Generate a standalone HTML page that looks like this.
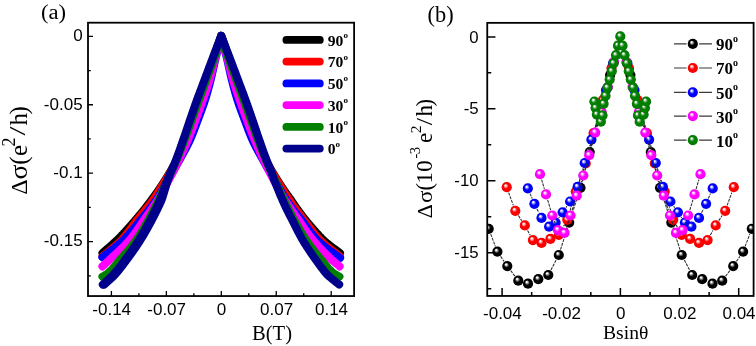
<!DOCTYPE html>
<html><head><meta charset="utf-8"><style>
html,body{margin:0;padding:0;background:#fff;width:756px;height:346px;overflow:hidden;}
svg{display:block;will-change:transform;}

</style></head><body>
<svg width="756" height="346" viewBox="0 0 756 346">
<defs>
<radialGradient id="gk" cx="0.5" cy="0.5" r="0.5" fx="0.36" fy="0.31"><stop offset="0" stop-color="#ffffff"/><stop offset="0.1" stop-color="#ffffff" stop-opacity="1"/><stop offset="0.3" stop-color="#808080"/><stop offset="0.5" stop-color="#000000"/><stop offset="0.85" stop-color="#000000"/><stop offset="1" stop-color="#000000"/></radialGradient>
<radialGradient id="gr" cx="0.5" cy="0.5" r="0.5" fx="0.36" fy="0.31"><stop offset="0" stop-color="#ffffff"/><stop offset="0.1" stop-color="#ffffff" stop-opacity="1"/><stop offset="0.3" stop-color="#ff8080"/><stop offset="0.5" stop-color="#ff0000"/><stop offset="0.85" stop-color="#ff0000"/><stop offset="1" stop-color="#e00000"/></radialGradient>
<radialGradient id="gb" cx="0.5" cy="0.5" r="0.5" fx="0.36" fy="0.31"><stop offset="0" stop-color="#ffffff"/><stop offset="0.1" stop-color="#ffffff" stop-opacity="1"/><stop offset="0.3" stop-color="#8080ff"/><stop offset="0.5" stop-color="#0000ff"/><stop offset="0.85" stop-color="#0000ff"/><stop offset="1" stop-color="#0000d8"/></radialGradient>
<radialGradient id="gm" cx="0.5" cy="0.5" r="0.5" fx="0.36" fy="0.31"><stop offset="0" stop-color="#ffffff"/><stop offset="0.1" stop-color="#ffffff" stop-opacity="1"/><stop offset="0.3" stop-color="#ff80ff"/><stop offset="0.5" stop-color="#ff00ff"/><stop offset="0.85" stop-color="#ff00ff"/><stop offset="1" stop-color="#e000e0"/></radialGradient>
<radialGradient id="gg" cx="0.5" cy="0.5" r="0.5" fx="0.36" fy="0.31"><stop offset="0" stop-color="#ffffff"/><stop offset="0.1" stop-color="#ffffff" stop-opacity="1"/><stop offset="0.3" stop-color="#70b070"/><stop offset="0.5" stop-color="#008000"/><stop offset="0.85" stop-color="#008000"/><stop offset="1" stop-color="#006800"/></radialGradient>
<clipPath id="cpa"><rect x="88.0" y="22.7" width="266.1" height="273.35"/></clipPath>
<clipPath id="cpb"><rect x="487.25" y="22.85" width="266.35" height="273.09999999999997"/></clipPath>
</defs>
<rect width="756" height="346" fill="#fff"/>
<g clip-path="url(#cpa)" fill="none" stroke-width="8" stroke-linecap="round" stroke-linejoin="round">
<path d="M102.5,253.0 L102.7,252.8 L103.9,251.8 L105.0,250.8 L106.2,249.8 L107.3,248.8 L108.5,247.8 L109.7,246.8 L110.8,245.8 L112.0,244.8 L113.1,243.8 L114.2,242.8 L115.3,241.8 L116.4,240.8 L117.4,239.8 L118.4,238.8 L119.4,237.8 L120.4,236.8 L121.4,235.8 L122.3,234.8 L123.3,233.8 L124.2,232.8 L125.2,231.8 L126.1,230.8 L127.0,229.8 L127.9,228.8 L128.8,227.8 L129.7,226.8 L130.6,225.8 L131.5,224.8 L132.3,223.8 L133.2,222.8 L134.1,221.8 L134.9,220.8 L135.8,219.8 L136.6,218.8 L137.5,217.8 L138.3,216.8 L139.1,215.8 L140.0,214.8 L140.8,213.8 L141.6,212.8 L142.4,211.8 L143.2,210.8 L144.0,209.8 L144.8,208.8 L145.6,207.8 L146.4,206.8 L147.1,205.8 L147.9,204.8 L148.7,203.8 L149.4,202.8 L150.2,201.8 L150.9,200.8 L151.6,199.8 L152.4,198.8 L153.1,197.8 L153.8,196.8 L154.6,195.8 L155.3,194.8 L156.0,193.8 L156.7,192.8 L157.4,191.8 L158.1,190.8 L158.8,189.8 L159.5,188.8 L160.1,187.8 L160.8,186.8 L161.5,185.8 L162.1,184.8 L162.8,183.8 L163.4,182.8 L164.1,181.8 L164.7,180.8 L165.3,179.8 L165.9,178.8 L166.6,177.8 L167.2,176.8 L167.8,175.8 L168.4,174.8 L169.0,173.8 L169.6,172.8 L170.2,171.8 L170.8,170.8 L171.4,169.8 L172.0,168.8 L172.5,167.8 L173.1,166.8 L173.6,165.8 L174.2,164.8 L174.7,163.8 L175.2,162.8 L175.7,161.8 L176.1,160.8 L176.6,159.8 L177.0,158.8 L177.5,157.8 L177.9,156.8 L178.3,155.8 L178.7,154.8 L179.1,153.8 L179.4,152.8 L179.8,151.8 L180.2,150.8 L180.5,149.8 L180.9,148.8 L181.2,147.8 L181.6,146.8 L181.9,145.8 L182.3,144.8 L182.6,143.8 L183.0,142.8 L183.3,141.8 L183.7,140.8 L184.1,139.8 L184.4,138.8 L184.8,137.8 L185.2,136.8 L185.5,135.8 L185.9,134.8 L186.3,133.8 L186.6,132.8 L187.0,131.8 L187.3,130.8 L187.7,129.8 L188.0,128.8 L188.4,127.8 L188.8,126.8 L189.1,125.8 L189.5,124.8 L189.8,123.8 L190.2,122.8 L190.6,121.8 L190.9,120.8 L191.3,119.8 L191.6,118.8 L192.0,117.8 L192.4,116.8 L192.7,115.8 L193.1,114.8 L193.4,113.8 L193.8,112.8 L194.2,111.8 L194.5,110.8 L194.9,109.8 L195.2,108.8 L195.6,107.8 L196.0,106.8 L196.3,105.8 L196.7,104.8 L197.0,103.8 L197.4,102.8 L197.8,101.8 L198.1,100.8 L198.5,99.8 L198.8,98.8 L199.2,97.8 L199.6,96.8 L199.9,95.8 L200.3,94.8 L200.6,93.8 L201.0,92.8 L201.4,91.8 L201.7,90.8 L202.1,89.8 L202.4,88.8 L202.8,87.8 L203.2,86.8 L203.5,85.8 L203.9,84.8 L204.2,83.8 L204.6,82.8 L205.0,81.8 L205.3,80.8 L205.7,79.8 L206.0,78.8 L206.4,77.8 L206.8,76.8 L207.1,75.8 L207.5,74.8 L207.8,73.8 L208.2,72.8 L208.6,71.8 L208.9,70.8 L209.3,69.8 L209.6,68.8 L210.0,67.8 L210.4,66.8 L210.7,65.8 L211.1,64.8 L211.4,63.8 L211.8,62.8 L212.2,61.8 L212.5,60.8 L212.9,59.8 L213.2,58.8 L213.6,57.8 L213.9,56.8 L214.3,55.8 L214.6,54.8 L215.0,53.8 L215.3,52.8 L215.7,51.8 L216.0,50.8 L216.4,49.8 L216.7,48.8 L217.1,47.8 L217.4,46.8 L217.8,45.8 L218.1,44.8 L218.5,43.8 L218.8,42.8 L219.2,41.8 L219.5,40.8 L219.9,39.8 L220.2,38.8 L220.6,37.8 L220.9,36.8 L221.2,35.8 L221.6,36.8 L221.9,37.8 L222.3,38.8 L222.6,39.8 L223.0,40.8 L223.3,41.8 L223.7,42.8 L224.0,43.8 L224.4,44.8 L224.7,45.8 L225.1,46.8 L225.4,47.8 L225.8,48.8 L226.1,49.8 L226.5,50.8 L226.8,51.8 L227.2,52.8 L227.5,53.8 L227.9,54.8 L228.2,55.8 L228.6,56.8 L228.9,57.8 L229.3,58.8 L229.6,59.8 L230.0,60.8 L230.3,61.8 L230.7,62.8 L231.1,63.8 L231.4,64.8 L231.8,65.8 L232.1,66.8 L232.5,67.8 L232.9,68.8 L233.2,69.8 L233.6,70.8 L233.9,71.8 L234.3,72.8 L234.7,73.8 L235.0,74.8 L235.4,75.8 L235.7,76.8 L236.1,77.8 L236.5,78.8 L236.8,79.8 L237.2,80.8 L237.5,81.8 L237.9,82.8 L238.3,83.8 L238.6,84.8 L239.0,85.8 L239.3,86.8 L239.7,87.8 L240.1,88.8 L240.4,89.8 L240.8,90.8 L241.1,91.8 L241.5,92.8 L241.9,93.8 L242.2,94.8 L242.6,95.8 L242.9,96.8 L243.3,97.8 L243.7,98.8 L244.0,99.8 L244.4,100.8 L244.7,101.8 L245.1,102.8 L245.5,103.8 L245.8,104.8 L246.2,105.8 L246.5,106.8 L246.9,107.8 L247.3,108.8 L247.6,109.8 L248.0,110.8 L248.3,111.8 L248.7,112.8 L249.1,113.8 L249.4,114.8 L249.8,115.8 L250.1,116.8 L250.5,117.8 L250.9,118.8 L251.2,119.8 L251.6,120.8 L251.9,121.8 L252.3,122.8 L252.7,123.8 L253.0,124.8 L253.4,125.8 L253.7,126.8 L254.1,127.8 L254.5,128.8 L254.8,129.8 L255.2,130.8 L255.5,131.8 L255.9,132.8 L256.2,133.8 L256.6,134.8 L257.0,135.8 L257.3,136.8 L257.7,137.8 L258.1,138.8 L258.4,139.8 L258.8,140.8 L259.2,141.8 L259.5,142.8 L259.9,143.8 L260.2,144.8 L260.6,145.8 L260.9,146.8 L261.3,147.8 L261.6,148.8 L262.0,149.8 L262.3,150.8 L262.7,151.8 L263.1,152.8 L263.4,153.8 L263.8,154.8 L264.2,155.8 L264.6,156.8 L265.0,157.8 L265.5,158.8 L265.9,159.8 L266.4,160.8 L266.8,161.8 L267.3,162.8 L267.8,163.8 L268.3,164.8 L268.9,165.8 L269.4,166.8 L270.0,167.8 L270.5,168.8 L271.1,169.8 L271.7,170.8 L272.3,171.8 L272.9,172.8 L273.5,173.8 L274.1,174.8 L274.7,175.8 L275.3,176.8 L275.9,177.8 L276.6,178.8 L277.2,179.8 L277.8,180.8 L278.4,181.8 L279.1,182.8 L279.7,183.8 L280.4,184.8 L281.0,185.8 L281.7,186.8 L282.4,187.8 L283.0,188.8 L283.7,189.8 L284.4,190.8 L285.1,191.8 L285.8,192.8 L286.5,193.8 L287.2,194.8 L287.9,195.8 L288.7,196.8 L289.4,197.8 L290.1,198.8 L290.9,199.8 L291.5,200.8 L292.2,201.8 L292.9,202.8 L293.6,203.8 L294.2,204.8 L294.9,205.8 L295.6,206.8 L296.3,207.8 L297.0,208.8 L297.8,209.8 L298.5,210.8 L299.2,211.8 L299.9,212.8 L300.7,213.8 L301.4,214.8 L302.2,215.8 L302.9,216.8 L303.7,217.8 L304.5,218.8 L305.2,219.8 L306.1,220.8 L306.9,221.8 L307.7,222.8 L308.6,223.8 L309.4,224.8 L310.3,225.8 L311.1,226.8 L312.0,227.8 L312.9,228.8 L313.8,229.8 L314.6,230.8 L315.5,231.8 L316.4,232.8 L317.4,233.8 L318.3,234.8 L319.2,235.8 L320.2,236.8 L321.1,237.8 L322.1,238.8 L323.1,239.8 L324.2,240.8 L325.4,241.8 L326.6,242.8 L327.9,243.8 L329.1,244.8 L330.4,245.8 L331.7,246.8 L333.0,247.8 L334.3,248.8 L335.7,249.8 L337.0,250.8 L338.4,251.8 L339.7,252.8 L340.0,253.0" stroke="#000000"/>
<path d="M102.5,256.5 L103.3,255.8 L104.5,254.8 L105.7,253.8 L106.9,252.8 L108.2,251.8 L109.4,250.8 L110.6,249.8 L111.8,248.8 L113.0,247.8 L114.2,246.8 L115.4,245.8 L116.6,244.8 L117.7,243.8 L118.8,242.8 L119.8,241.8 L120.8,240.8 L121.8,239.8 L122.7,238.8 L123.6,237.8 L124.4,236.8 L125.3,235.8 L126.1,234.8 L126.9,233.8 L127.7,232.8 L128.4,231.8 L129.2,230.8 L129.9,229.8 L130.7,228.8 L131.4,227.8 L132.1,226.8 L132.8,225.8 L133.6,224.8 L134.3,223.8 L135.1,222.8 L135.8,221.8 L136.6,220.8 L137.4,219.8 L138.2,218.8 L139.0,217.8 L139.8,216.8 L140.6,215.8 L141.4,214.8 L142.2,213.8 L143.1,212.8 L143.9,211.8 L144.7,210.8 L145.5,209.8 L146.3,208.8 L147.2,207.8 L148.0,206.8 L148.7,205.8 L149.5,204.8 L150.3,203.8 L151.1,202.8 L151.8,201.8 L152.5,200.8 L153.2,199.8 L153.9,198.8 L154.6,197.8 L155.3,196.8 L156.0,195.8 L156.6,194.8 L157.3,193.8 L157.9,192.8 L158.5,191.8 L159.2,190.8 L159.8,189.8 L160.4,188.8 L161.0,187.8 L161.6,186.8 L162.2,185.8 L162.8,184.8 L163.4,183.8 L164.0,182.8 L164.6,181.8 L165.2,180.8 L165.8,179.8 L166.4,178.8 L167.0,177.8 L167.6,176.8 L168.2,175.8 L168.8,174.8 L169.4,173.8 L170.0,172.8 L170.6,171.8 L171.2,170.8 L171.8,169.8 L172.3,168.8 L172.9,167.8 L173.5,166.8 L174.0,165.8 L174.5,164.8 L175.1,163.8 L175.6,162.8 L176.1,161.8 L176.5,160.8 L177.0,159.8 L177.4,158.8 L177.9,157.8 L178.3,156.8 L178.7,155.8 L179.1,154.8 L179.5,153.8 L179.8,152.8 L180.2,151.8 L180.6,150.8 L180.9,149.8 L181.3,148.8 L181.6,147.8 L182.0,146.8 L182.3,145.8 L182.7,144.8 L183.0,143.8 L183.4,142.8 L183.7,141.8 L184.1,140.8 L184.5,139.8 L184.8,138.8 L185.2,137.8 L185.6,136.8 L185.9,135.8 L186.3,134.8 L186.7,133.8 L187.0,132.8 L187.4,131.8 L187.7,130.8 L188.1,129.8 L188.4,128.8 L188.8,127.8 L189.2,126.8 L189.5,125.8 L189.9,124.8 L190.2,123.8 L190.6,122.8 L191.0,121.8 L191.3,120.8 L191.7,119.8 L192.0,118.8 L192.4,117.8 L192.8,116.8 L193.1,115.8 L193.5,114.8 L193.8,113.8 L194.2,112.8 L194.6,111.8 L194.9,110.8 L195.3,109.8 L195.6,108.8 L196.0,107.8 L196.4,106.8 L196.7,105.8 L197.1,104.8 L197.4,103.8 L197.8,102.8 L198.2,101.8 L198.5,100.8 L198.9,99.8 L199.2,98.8 L199.6,97.8 L200.0,96.8 L200.3,95.8 L200.7,94.8 L201.0,93.8 L201.4,92.8 L201.8,91.8 L202.1,90.8 L202.5,89.8 L202.8,88.8 L203.2,87.8 L203.6,86.8 L203.9,85.8 L204.3,84.8 L204.6,83.8 L205.0,82.8 L205.4,81.8 L205.7,80.8 L206.1,79.8 L206.4,78.8 L206.8,77.8 L207.1,76.8 L207.5,75.8 L207.8,74.8 L208.2,73.8 L208.5,72.8 L208.9,71.8 L209.2,70.8 L209.6,69.8 L209.9,68.8 L210.3,67.8 L210.6,66.8 L211.0,65.8 L211.3,64.8 L211.7,63.8 L212.0,62.8 L212.4,61.8 L212.7,60.8 L213.1,59.8 L213.4,58.8 L213.8,57.8 L214.1,56.8 L214.4,55.8 L214.8,54.8 L215.1,53.8 L215.5,52.8 L215.8,51.8 L216.2,50.8 L216.5,49.8 L216.8,48.8 L217.2,47.8 L217.5,46.8 L217.9,45.8 L218.2,44.8 L218.5,43.8 L218.9,42.8 L219.2,41.8 L219.5,40.8 L219.9,39.8 L220.2,38.8 L220.6,37.8 L220.9,36.8 L221.2,35.8 L221.6,36.8 L221.9,37.8 L222.3,38.8 L222.6,39.8 L223.0,40.8 L223.3,41.8 L223.6,42.8 L224.0,43.8 L224.3,44.8 L224.6,45.8 L225.0,46.8 L225.3,47.8 L225.7,48.8 L226.0,49.8 L226.3,50.8 L226.7,51.8 L227.0,52.8 L227.4,53.8 L227.7,54.8 L228.1,55.8 L228.4,56.8 L228.7,57.8 L229.1,58.8 L229.4,59.8 L229.8,60.8 L230.1,61.8 L230.5,62.8 L230.8,63.8 L231.2,64.8 L231.5,65.8 L231.9,66.8 L232.2,67.8 L232.6,68.8 L232.9,69.8 L233.3,70.8 L233.6,71.8 L234.0,72.8 L234.3,73.8 L234.7,74.8 L235.0,75.8 L235.4,76.8 L235.7,77.8 L236.1,78.8 L236.4,79.8 L236.8,80.8 L237.1,81.8 L237.5,82.8 L237.9,83.8 L238.2,84.8 L238.6,85.8 L238.9,86.8 L239.3,87.8 L239.7,88.8 L240.0,89.8 L240.4,90.8 L240.7,91.8 L241.1,92.8 L241.5,93.8 L241.8,94.8 L242.2,95.8 L242.5,96.8 L242.9,97.8 L243.3,98.8 L243.6,99.8 L244.0,100.8 L244.3,101.8 L244.7,102.8 L245.1,103.8 L245.4,104.8 L245.8,105.8 L246.1,106.8 L246.5,107.8 L246.9,108.8 L247.2,109.8 L247.6,110.8 L247.9,111.8 L248.3,112.8 L248.7,113.8 L249.0,114.8 L249.4,115.8 L249.7,116.8 L250.1,117.8 L250.5,118.8 L250.8,119.8 L251.2,120.8 L251.5,121.8 L251.9,122.8 L252.3,123.8 L252.6,124.8 L253.0,125.8 L253.3,126.8 L253.7,127.8 L254.1,128.8 L254.4,129.8 L254.8,130.8 L255.1,131.8 L255.5,132.8 L255.8,133.8 L256.2,134.8 L256.6,135.8 L256.9,136.8 L257.3,137.8 L257.7,138.8 L258.0,139.8 L258.4,140.8 L258.8,141.8 L259.1,142.8 L259.5,143.8 L259.8,144.8 L260.2,145.8 L260.5,146.8 L260.9,147.8 L261.2,148.8 L261.6,149.8 L261.9,150.8 L262.3,151.8 L262.7,152.8 L263.0,153.8 L263.4,154.8 L263.8,155.8 L264.2,156.8 L264.6,157.8 L265.1,158.8 L265.5,159.8 L266.0,160.8 L266.4,161.8 L266.9,162.8 L267.4,163.8 L268.0,164.8 L268.5,165.8 L269.0,166.8 L269.6,167.8 L270.2,168.8 L270.7,169.8 L271.3,170.8 L271.9,171.8 L272.5,172.8 L273.1,173.8 L273.7,174.8 L274.3,175.8 L274.9,176.8 L275.5,177.8 L276.1,178.8 L276.7,179.8 L277.3,180.8 L277.9,181.8 L278.5,182.8 L279.1,183.8 L279.7,184.8 L280.3,185.8 L280.9,186.8 L281.5,187.8 L282.1,188.8 L282.7,189.8 L283.3,190.8 L284.0,191.8 L284.6,192.8 L285.2,193.8 L285.9,194.8 L286.5,195.8 L287.2,196.8 L287.9,197.8 L288.6,198.8 L289.3,199.8 L289.9,200.8 L290.6,201.8 L291.2,202.8 L291.9,203.8 L292.6,204.8 L293.3,205.8 L294.0,206.8 L294.8,207.8 L295.5,208.8 L296.2,209.8 L297.0,210.8 L297.7,211.8 L298.5,212.8 L299.2,213.8 L300.0,214.8 L300.7,215.8 L301.5,216.8 L302.2,217.8 L302.9,218.8 L303.7,219.8 L304.4,220.8 L305.2,221.8 L306.0,222.8 L306.8,223.8 L307.5,224.8 L308.3,225.8 L309.1,226.8 L309.8,227.8 L310.6,228.8 L311.3,229.8 L312.1,230.8 L312.9,231.8 L313.7,232.8 L314.5,233.8 L315.3,234.8 L316.1,235.8 L317.0,236.8 L317.9,237.8 L318.8,238.8 L319.7,239.8 L320.7,240.8 L321.8,241.8 L322.9,242.8 L324.0,243.8 L325.2,244.8 L326.4,245.8 L327.7,246.8 L328.9,247.8 L330.2,248.8 L331.5,249.8 L332.8,250.8 L334.1,251.8 L335.4,252.8 L336.6,253.8 L337.9,254.8 L339.1,255.8 L340.0,256.5" stroke="#ff0000"/>
<path d="M102.4,257.3 L103.0,256.8 L104.3,255.8 L105.5,254.8 L106.8,253.8 L108.1,252.8 L109.4,251.8 L110.7,250.8 L112.0,249.8 L113.3,248.8 L114.5,247.8 L115.8,246.8 L117.0,245.8 L118.2,244.8 L119.4,243.8 L120.6,242.8 L121.7,241.8 L122.8,240.8 L123.8,239.8 L124.8,238.8 L125.8,237.8 L126.7,236.8 L127.6,235.8 L128.6,234.8 L129.4,233.8 L130.3,232.8 L131.2,231.8 L132.0,230.8 L132.9,229.8 L133.7,228.8 L134.5,227.8 L135.3,226.8 L136.1,225.8 L136.9,224.8 L137.7,223.8 L138.5,222.8 L139.3,221.8 L140.1,220.8 L141.0,219.8 L141.8,218.8 L142.6,217.8 L143.4,216.8 L144.2,215.8 L145.1,214.8 L145.9,213.8 L146.7,212.8 L147.5,211.8 L148.3,210.8 L149.1,209.8 L149.9,208.8 L150.6,207.8 L151.4,206.8 L152.2,205.8 L152.9,204.8 L153.6,203.8 L154.4,202.8 L155.1,201.8 L155.8,200.8 L156.4,199.8 L157.1,198.8 L157.7,197.8 L158.4,196.8 L159.0,195.8 L159.6,194.8 L160.2,193.8 L160.8,192.8 L161.3,191.8 L161.9,190.8 L162.5,189.8 L163.0,188.8 L163.6,187.8 L164.2,186.8 L164.7,185.8 L165.3,184.8 L165.8,183.8 L166.4,182.8 L167.0,181.8 L167.5,180.8 L168.1,179.8 L168.7,178.8 L169.3,177.8 L169.9,176.8 L170.4,175.8 L171.0,174.8 L171.6,173.8 L172.2,172.8 L172.8,171.8 L173.4,170.8 L173.9,169.8 L174.5,168.8 L175.1,167.8 L175.7,166.8 L176.2,165.8 L176.8,164.8 L177.4,163.8 L177.9,162.8 L178.5,161.8 L179.1,160.8 L179.6,159.8 L180.2,158.8 L180.7,157.8 L181.3,156.8 L181.8,155.8 L182.4,154.8 L182.9,153.8 L183.5,152.8 L184.0,151.8 L184.6,150.8 L185.1,149.8 L185.6,148.8 L186.2,147.8 L186.7,146.8 L187.2,145.8 L187.7,144.8 L188.2,143.8 L188.7,142.8 L189.2,141.8 L189.6,140.8 L190.1,139.8 L190.5,138.8 L191.0,137.8 L191.4,136.8 L191.8,135.8 L192.2,134.8 L192.6,133.8 L193.0,132.8 L193.4,131.8 L193.8,130.8 L194.2,129.8 L194.5,128.8 L194.9,127.8 L195.3,126.8 L195.7,125.8 L196.0,124.8 L196.4,123.8 L196.8,122.8 L197.1,121.8 L197.5,120.8 L197.9,119.8 L198.3,118.8 L198.6,117.8 L199.0,116.8 L199.4,115.8 L199.8,114.8 L200.1,113.8 L200.5,112.8 L200.9,111.8 L201.3,110.8 L201.6,109.8 L202.0,108.8 L202.3,107.8 L202.7,106.8 L203.1,105.8 L203.4,104.8 L203.8,103.8 L204.1,102.8 L204.4,101.8 L204.7,100.8 L205.1,99.8 L205.4,98.8 L205.7,97.8 L206.0,96.8 L206.3,95.8 L206.6,94.8 L206.9,93.8 L207.2,92.8 L207.5,91.8 L207.7,90.8 L208.0,89.8 L208.3,88.8 L208.6,87.8 L208.8,86.8 L209.1,85.8 L209.4,84.8 L209.6,83.8 L209.9,82.8 L210.1,81.8 L210.4,80.8 L210.7,79.8 L210.9,78.8 L211.1,77.8 L211.4,76.8 L211.6,75.8 L211.9,74.8 L212.1,73.8 L212.3,72.8 L212.5,71.8 L212.8,70.8 L213.0,69.8 L213.2,68.8 L213.4,67.8 L213.6,66.8 L213.9,65.8 L214.1,64.8 L214.3,63.8 L214.5,62.8 L214.8,61.8 L215.0,60.8 L215.2,59.8 L215.5,58.8 L215.7,57.8 L216.0,56.8 L216.2,55.8 L216.5,54.8 L216.7,53.8 L217.0,52.8 L217.2,51.8 L217.5,50.8 L217.7,49.8 L218.0,48.8 L218.2,47.8 L218.5,46.8 L218.7,45.8 L219.0,44.8 L219.2,43.8 L219.5,42.8 L219.7,41.8 L220.0,40.8 L220.2,39.8 L220.5,38.8 L220.7,37.8 L221.0,36.8 L221.2,35.8 L221.5,36.8 L221.8,37.8 L222.0,38.8 L222.3,39.8 L222.5,40.8 L222.8,41.8 L223.0,42.8 L223.3,43.8 L223.5,44.8 L223.8,45.8 L224.0,46.8 L224.3,47.8 L224.5,48.8 L224.8,49.8 L225.0,50.8 L225.3,51.8 L225.5,52.8 L225.8,53.8 L226.0,54.8 L226.3,55.8 L226.5,56.8 L226.8,57.8 L227.0,58.8 L227.3,59.8 L227.5,60.8 L227.7,61.8 L228.0,62.8 L228.2,63.8 L228.4,64.8 L228.6,65.8 L228.9,66.8 L229.1,67.8 L229.3,68.8 L229.5,69.8 L229.7,70.8 L230.0,71.8 L230.2,72.8 L230.4,73.8 L230.6,74.8 L230.9,75.8 L231.1,76.8 L231.4,77.8 L231.6,78.8 L231.8,79.8 L232.1,80.8 L232.4,81.8 L232.6,82.8 L232.9,83.8 L233.1,84.8 L233.4,85.8 L233.7,86.8 L233.9,87.8 L234.2,88.8 L234.5,89.8 L234.8,90.8 L235.0,91.8 L235.3,92.8 L235.6,93.8 L235.9,94.8 L236.2,95.8 L236.5,96.8 L236.8,97.8 L237.1,98.8 L237.4,99.8 L237.8,100.8 L238.1,101.8 L238.4,102.8 L238.7,103.8 L239.1,104.8 L239.4,105.8 L239.8,106.8 L240.2,107.8 L240.5,108.8 L240.9,109.8 L241.2,110.8 L241.6,111.8 L242.0,112.8 L242.4,113.8 L242.7,114.8 L243.1,115.8 L243.5,116.8 L243.9,117.8 L244.2,118.8 L244.6,119.8 L245.0,120.8 L245.4,121.8 L245.7,122.8 L246.1,123.8 L246.5,124.8 L246.8,125.8 L247.2,126.8 L247.6,127.8 L248.0,128.8 L248.3,129.8 L248.7,130.8 L249.1,131.8 L249.5,132.8 L249.9,133.8 L250.3,134.8 L250.7,135.8 L251.1,136.8 L251.5,137.8 L252.0,138.8 L252.4,139.8 L252.9,140.8 L253.3,141.8 L253.8,142.8 L254.3,143.8 L254.8,144.8 L255.3,145.8 L255.8,146.8 L256.3,147.8 L256.9,148.8 L257.4,149.8 L257.9,150.8 L258.5,151.8 L259.0,152.8 L259.6,153.8 L260.1,154.8 L260.7,155.8 L261.2,156.8 L261.8,157.8 L262.3,158.8 L262.9,159.8 L263.4,160.8 L264.0,161.8 L264.6,162.8 L265.1,163.8 L265.7,164.8 L266.3,165.8 L266.8,166.8 L267.4,167.8 L268.0,168.8 L268.6,169.8 L269.1,170.8 L269.7,171.8 L270.3,172.8 L270.9,173.8 L271.5,174.8 L272.1,175.8 L272.6,176.8 L273.2,177.8 L273.8,178.8 L274.4,179.8 L275.0,180.8 L275.5,181.8 L276.1,182.8 L276.7,183.8 L277.2,184.8 L277.8,185.8 L278.3,186.8 L278.9,187.8 L279.5,188.8 L280.0,189.8 L280.6,190.8 L281.2,191.8 L281.7,192.8 L282.3,193.8 L282.9,194.8 L283.5,195.8 L284.1,196.8 L284.8,197.9 L285.4,198.9 L286.1,199.9 L286.7,200.9 L287.4,201.9 L288.1,202.9 L288.9,203.9 L289.6,204.9 L290.3,205.9 L291.1,207.0 L291.9,208.0 L292.6,209.0 L293.4,210.0 L294.2,211.0 L295.0,212.0 L295.8,213.0 L296.6,214.0 L297.4,215.0 L298.3,216.1 L299.1,217.1 L299.9,218.1 L300.7,219.1 L301.5,220.1 L302.3,221.1 L303.0,222.1 L303.8,223.1 L304.5,224.2 L305.2,225.2 L305.9,226.2 L306.7,227.2 L307.4,228.2 L308.1,229.2 L308.9,230.2 L309.7,231.2 L310.4,232.2 L311.2,233.3 L312.0,234.3 L312.8,235.3 L313.7,236.3 L314.5,237.3 L315.4,238.3 L316.3,239.3 L317.2,240.3 L318.3,241.4 L319.4,242.4 L320.6,243.4 L321.8,244.4 L323.0,245.4 L324.3,246.4 L325.5,247.4 L326.9,248.4 L328.2,249.4 L329.5,250.4 L330.9,251.4 L332.4,252.4 L333.8,253.4 L335.2,254.4 L336.6,255.4 L338.0,256.4 L339.4,257.4 L340.1,257.9" stroke="#0000ff"/>
<path d="M102.4,266.4 L103.1,265.8 L104.2,264.8 L105.3,263.8 L106.4,262.8 L107.5,261.8 L108.5,260.8 L109.6,259.8 L110.7,258.8 L111.7,257.8 L112.8,256.8 L113.9,255.8 L115.0,254.8 L116.1,253.8 L117.1,252.8 L118.2,251.8 L119.3,250.8 L120.3,249.8 L121.4,248.8 L122.4,247.8 L123.4,246.8 L124.4,245.8 L125.4,244.8 L126.3,243.8 L127.2,242.8 L128.1,241.8 L129.0,240.8 L129.9,239.8 L130.7,238.8 L131.5,237.8 L132.3,236.8 L133.0,235.8 L133.8,234.8 L134.5,233.8 L135.2,232.8 L136.0,231.8 L136.7,230.8 L137.3,229.8 L138.0,228.8 L138.7,227.8 L139.4,226.8 L140.1,225.8 L140.7,224.8 L141.4,223.8 L142.1,222.8 L142.8,221.8 L143.4,220.8 L144.1,219.8 L144.8,218.8 L145.5,217.8 L146.2,216.8 L146.9,215.8 L147.7,214.8 L148.4,213.8 L149.1,212.8 L149.8,211.8 L150.5,210.8 L151.1,209.8 L151.8,208.8 L152.5,207.8 L153.2,206.8 L153.9,205.8 L154.5,204.8 L155.2,203.8 L155.8,202.8 L156.5,201.8 L157.1,200.8 L157.7,199.8 L158.3,198.8 L158.9,197.8 L159.5,196.8 L160.1,195.8 L160.7,194.8 L161.3,193.8 L161.8,192.8 L162.4,191.8 L163.0,190.8 L163.5,189.8 L164.1,188.8 L164.6,187.8 L165.2,186.8 L165.7,185.8 L166.2,184.8 L166.8,183.8 L167.3,182.8 L167.8,181.8 L168.4,180.8 L168.9,179.8 L169.4,178.8 L170.0,177.8 L170.5,176.8 L171.0,175.8 L171.5,174.8 L172.1,173.8 L172.6,172.8 L173.1,171.8 L173.6,170.8 L174.1,169.8 L174.6,168.8 L175.1,167.8 L175.6,166.8 L176.1,165.8 L176.6,164.8 L177.1,163.8 L177.6,162.8 L178.0,161.8 L178.5,160.8 L179.0,159.8 L179.5,158.8 L179.9,157.8 L180.4,156.8 L180.9,155.8 L181.3,154.8 L181.8,153.8 L182.2,152.8 L182.7,151.8 L183.1,150.8 L183.6,149.8 L184.0,148.8 L184.5,147.8 L184.9,146.8 L185.3,145.8 L185.8,144.8 L186.2,143.8 L186.6,142.8 L187.0,141.8 L187.5,140.8 L187.9,139.8 L188.3,138.8 L188.7,137.8 L189.1,136.8 L189.5,135.8 L189.9,134.8 L190.3,133.8 L190.7,132.8 L191.1,131.8 L191.5,130.8 L191.9,129.8 L192.3,128.8 L192.7,127.8 L193.0,126.8 L193.4,125.8 L193.8,124.8 L194.2,123.8 L194.5,122.8 L194.9,121.8 L195.3,120.8 L195.7,119.8 L196.0,118.8 L196.4,117.8 L196.8,116.8 L197.2,115.8 L197.5,114.8 L197.9,113.8 L198.3,112.8 L198.6,111.8 L199.0,110.8 L199.3,109.8 L199.7,108.8 L200.1,107.8 L200.4,106.8 L200.8,105.8 L201.1,104.8 L201.5,103.8 L201.8,102.8 L202.2,101.8 L202.5,100.8 L202.9,99.8 L203.2,98.8 L203.6,97.8 L203.9,96.8 L204.3,95.8 L204.6,94.8 L205.0,93.8 L205.3,92.8 L205.7,91.8 L206.0,90.8 L206.4,89.8 L206.7,88.8 L207.0,87.8 L207.4,86.8 L207.7,85.8 L208.0,84.8 L208.3,83.8 L208.7,82.8 L209.0,81.8 L209.3,80.8 L209.6,79.8 L209.8,78.8 L210.1,77.8 L210.4,76.8 L210.7,75.8 L210.9,74.8 L211.2,73.8 L211.5,72.8 L211.7,71.8 L212.0,70.8 L212.2,69.8 L212.5,68.8 L212.7,67.8 L213.0,66.8 L213.2,65.8 L213.5,64.8 L213.7,63.8 L214.0,62.8 L214.2,61.8 L214.5,60.8 L214.8,59.8 L215.0,58.8 L215.3,57.8 L215.6,56.8 L215.8,55.8 L216.1,54.8 L216.4,53.8 L216.6,52.8 L216.9,51.8 L217.2,50.8 L217.4,49.8 L217.7,48.8 L218.0,47.8 L218.3,46.8 L218.5,45.8 L218.8,44.8 L219.1,43.8 L219.3,42.8 L219.6,41.8 L219.9,40.8 L220.2,39.8 L220.4,38.8 L220.7,37.8 L221.0,36.8 L221.2,35.8 L221.5,36.8 L221.8,37.8 L222.1,38.8 L222.3,39.8 L222.6,40.8 L222.9,41.8 L223.2,42.8 L223.4,43.8 L223.7,44.8 L224.0,45.8 L224.2,46.8 L224.5,47.8 L224.8,48.8 L225.1,49.8 L225.3,50.8 L225.6,51.8 L225.9,52.8 L226.1,53.8 L226.4,54.8 L226.7,55.8 L226.9,56.8 L227.2,57.8 L227.5,58.8 L227.7,59.8 L228.0,60.8 L228.3,61.8 L228.5,62.8 L228.8,63.8 L229.0,64.8 L229.3,65.8 L229.5,66.8 L229.8,67.8 L230.0,68.8 L230.3,69.8 L230.5,70.8 L230.8,71.8 L231.0,72.8 L231.3,73.8 L231.6,74.8 L231.8,75.8 L232.1,76.8 L232.4,77.8 L232.7,78.8 L232.9,79.8 L233.2,80.8 L233.5,81.8 L233.8,82.8 L234.2,83.8 L234.5,84.8 L234.8,85.8 L235.1,86.8 L235.5,87.8 L235.8,88.8 L236.1,89.8 L236.5,90.8 L236.8,91.8 L237.2,92.8 L237.5,93.8 L237.9,94.8 L238.2,95.8 L238.6,96.8 L238.9,97.8 L239.3,98.8 L239.6,99.8 L240.0,100.8 L240.3,101.8 L240.7,102.8 L241.0,103.8 L241.4,104.8 L241.7,105.8 L242.1,106.8 L242.4,107.8 L242.8,108.8 L243.2,109.8 L243.5,110.8 L243.9,111.8 L244.2,112.8 L244.6,113.8 L245.0,114.8 L245.3,115.8 L245.7,116.8 L246.1,117.8 L246.5,118.8 L246.8,119.8 L247.2,120.8 L247.6,121.8 L248.0,122.8 L248.3,123.8 L248.7,124.8 L249.1,125.8 L249.5,126.8 L249.8,127.8 L250.2,128.8 L250.6,129.8 L251.0,130.8 L251.4,131.8 L251.8,132.8 L252.2,133.8 L252.6,134.8 L253.0,135.8 L253.4,136.8 L253.8,137.8 L254.2,138.8 L254.6,139.8 L255.0,140.8 L255.5,141.8 L255.9,142.8 L256.3,143.8 L256.7,144.8 L257.2,145.8 L257.6,146.8 L258.0,147.8 L258.5,148.8 L258.9,149.8 L259.4,150.8 L259.8,151.8 L260.3,152.8 L260.7,153.8 L261.2,154.8 L261.6,155.8 L262.1,156.8 L262.6,157.8 L263.0,158.8 L263.5,159.8 L264.0,160.8 L264.5,161.8 L264.9,162.8 L265.4,163.8 L265.9,164.8 L266.4,165.8 L266.9,166.8 L267.4,167.8 L267.9,168.8 L268.4,169.8 L268.9,170.8 L269.4,171.8 L269.9,172.8 L270.4,173.8 L271.0,174.8 L271.5,175.8 L272.0,176.8 L272.5,177.8 L273.1,178.8 L273.6,179.8 L274.1,180.8 L274.7,181.8 L275.2,182.8 L275.7,183.8 L276.3,184.8 L276.8,185.8 L277.3,186.8 L277.9,187.8 L278.4,188.8 L279.0,189.8 L279.5,190.8 L280.1,191.8 L280.7,192.8 L281.2,193.8 L281.8,194.8 L282.4,195.8 L283.0,196.8 L283.6,197.8 L284.2,198.8 L284.8,199.8 L285.4,200.8 L286.0,201.8 L286.7,202.8 L287.3,203.8 L288.0,204.8 L288.6,205.8 L289.3,206.8 L290.0,207.8 L290.7,208.8 L291.4,209.8 L292.0,210.8 L292.7,211.8 L293.4,212.8 L294.1,213.8 L294.8,214.8 L295.6,215.8 L296.3,216.8 L297.0,217.8 L297.7,218.8 L298.4,219.8 L299.1,220.8 L299.7,221.8 L300.4,222.8 L301.1,223.8 L301.8,224.8 L302.4,225.8 L303.1,226.8 L303.8,227.8 L304.5,228.8 L305.2,229.8 L305.8,230.8 L306.5,231.8 L307.3,232.8 L308.0,233.8 L308.7,234.8 L309.5,235.8 L310.2,236.8 L311.0,237.8 L311.8,238.8 L312.6,239.8 L313.4,240.8 L314.3,241.8 L315.1,242.8 L316.0,243.8 L316.9,244.8 L317.8,245.8 L318.7,246.8 L319.7,247.8 L320.6,248.8 L321.6,249.8 L322.6,250.8 L323.6,251.8 L324.6,252.8 L325.6,253.8 L326.6,254.8 L327.6,255.8 L328.7,256.8 L329.7,257.8 L330.7,258.8 L331.7,259.8 L332.8,260.8 L334.0,261.8 L335.2,262.8 L336.5,263.8 L337.7,264.8 L338.9,265.8 L339.6,266.4" stroke="#ff00ff"/>
<path d="M102.4,276.6 L104.1,275.8 L105.8,274.8 L107.1,273.8 L108.4,272.8 L109.5,271.8 L110.6,270.8 L111.6,269.8 L112.6,268.8 L113.5,267.8 L114.3,266.8 L115.2,265.8 L116.0,264.8 L116.8,263.8 L117.6,262.8 L118.5,261.8 L119.3,260.8 L120.2,259.8 L121.1,258.8 L122.0,257.8 L122.8,256.8 L123.7,255.8 L124.6,254.8 L125.5,253.8 L126.3,252.8 L127.2,251.8 L128.0,250.8 L128.9,249.8 L129.7,248.8 L130.5,247.8 L131.3,246.8 L132.1,245.8 L132.9,244.8 L133.6,243.8 L134.4,242.8 L135.1,241.8 L135.8,240.8 L136.5,239.8 L137.2,238.8 L137.9,237.8 L138.6,236.8 L139.2,235.8 L139.8,234.8 L140.5,233.8 L141.1,232.8 L141.7,231.8 L142.3,230.8 L142.9,229.8 L143.5,228.8 L144.0,227.8 L144.6,226.8 L145.2,225.8 L145.7,224.8 L146.3,223.8 L146.9,222.8 L147.4,221.8 L148.0,220.8 L148.5,219.8 L149.1,218.8 L149.6,217.8 L150.1,216.8 L150.7,215.8 L151.2,214.8 L151.7,213.8 L152.2,212.8 L152.8,211.8 L153.3,210.8 L153.8,209.8 L154.3,208.8 L154.8,207.8 L155.3,206.8 L155.8,205.8 L156.3,204.8 L156.8,203.8 L157.3,202.8 L157.7,201.8 L158.2,200.8 L158.7,199.8 L159.2,198.8 L159.6,197.8 L160.1,196.8 L160.6,195.8 L161.0,194.8 L161.5,193.8 L161.9,192.8 L162.4,191.8 L162.8,190.8 L163.3,189.8 L163.7,188.8 L164.1,187.8 L164.6,186.8 L165.0,185.8 L165.5,184.8 L165.9,183.8 L166.3,182.8 L166.8,181.8 L167.2,180.8 L167.7,179.8 L168.1,178.8 L168.6,177.8 L169.1,176.8 L169.5,175.8 L170.0,174.8 L170.4,173.8 L170.9,172.8 L171.3,171.8 L171.8,170.8 L172.3,169.8 L172.7,168.8 L173.2,167.8 L173.6,166.8 L174.1,165.8 L174.5,164.8 L175.0,163.8 L175.4,162.8 L175.8,161.8 L176.3,160.8 L176.7,159.8 L177.1,158.8 L177.5,157.8 L177.9,156.8 L178.3,155.8 L178.7,154.8 L179.1,153.8 L179.6,152.8 L179.9,151.8 L180.3,150.8 L180.7,149.8 L181.1,148.8 L181.5,147.8 L181.9,146.8 L182.3,145.8 L182.7,144.8 L183.1,143.8 L183.4,142.8 L183.8,141.8 L184.2,140.8 L184.6,139.8 L184.9,138.8 L185.3,137.8 L185.7,136.8 L186.1,135.8 L186.4,134.8 L186.8,133.8 L187.1,132.8 L187.5,131.8 L187.9,130.8 L188.2,129.8 L188.6,128.8 L188.9,127.8 L189.3,126.8 L189.6,125.8 L190.0,124.8 L190.3,123.8 L190.7,122.8 L191.1,121.8 L191.4,120.8 L191.8,119.8 L192.1,118.8 L192.5,117.8 L192.9,116.8 L193.2,115.8 L193.6,114.8 L193.9,113.8 L194.3,112.8 L194.6,111.8 L195.0,110.8 L195.4,109.8 L195.7,108.8 L196.1,107.8 L196.4,106.8 L196.8,105.8 L197.2,104.8 L197.5,103.8 L197.9,102.8 L198.2,101.8 L198.6,100.8 L199.0,99.8 L199.3,98.8 L199.7,97.8 L200.1,96.8 L200.4,95.8 L200.8,94.8 L201.2,93.8 L201.5,92.8 L201.9,91.8 L202.3,90.8 L202.6,89.8 L203.0,88.8 L203.3,87.8 L203.7,86.8 L204.1,85.8 L204.4,84.8 L204.8,83.8 L205.2,82.8 L205.5,81.8 L205.9,80.8 L206.3,79.8 L206.6,78.8 L207.0,77.8 L207.4,76.8 L207.7,75.8 L208.1,74.8 L208.5,73.8 L208.9,72.8 L209.2,71.8 L209.6,70.8 L210.0,69.8 L210.4,68.8 L210.7,67.8 L211.1,66.8 L211.5,65.8 L211.8,64.8 L212.2,63.8 L212.5,62.8 L212.9,61.8 L213.2,60.8 L213.6,59.8 L213.9,58.8 L214.2,57.8 L214.6,56.8 L214.9,55.8 L215.2,54.8 L215.6,53.8 L215.9,52.8 L216.2,51.8 L216.5,50.8 L216.8,49.8 L217.2,48.8 L217.5,47.8 L217.8,46.8 L218.1,45.8 L218.4,44.8 L218.7,43.8 L219.0,42.8 L219.4,41.8 L219.7,40.8 L220.0,39.8 L220.3,38.8 L220.6,37.8 L220.9,36.8 L221.2,35.8 L221.6,36.8 L221.9,37.8 L222.2,38.8 L222.5,39.8 L222.8,40.8 L223.1,41.8 L223.5,42.8 L223.8,43.8 L224.1,44.8 L224.4,45.8 L224.7,46.8 L225.0,47.8 L225.3,48.8 L225.7,49.8 L226.0,50.8 L226.3,51.8 L226.6,52.8 L226.9,53.8 L227.3,54.8 L227.6,55.8 L227.9,56.8 L228.3,57.8 L228.6,58.8 L228.9,59.8 L229.3,60.8 L229.6,61.8 L230.0,62.8 L230.3,63.8 L230.7,64.8 L231.0,65.8 L231.4,66.8 L231.8,67.8 L232.1,68.8 L232.5,69.8 L232.9,70.8 L233.3,71.8 L233.6,72.8 L234.0,73.8 L234.4,74.8 L234.8,75.8 L235.1,76.8 L235.5,77.8 L235.9,78.8 L236.2,79.8 L236.6,80.8 L237.0,81.8 L237.3,82.8 L237.7,83.8 L238.1,84.8 L238.4,85.8 L238.8,86.8 L239.2,87.8 L239.5,88.8 L239.9,89.8 L240.2,90.8 L240.6,91.8 L241.0,92.8 L241.3,93.8 L241.7,94.8 L242.1,95.8 L242.4,96.8 L242.8,97.8 L243.2,98.8 L243.5,99.8 L243.9,100.8 L244.3,101.8 L244.6,102.8 L245.0,103.8 L245.3,104.8 L245.7,105.8 L246.1,106.8 L246.4,107.8 L246.8,108.8 L247.1,109.8 L247.5,110.8 L247.9,111.8 L248.2,112.8 L248.6,113.8 L248.9,114.8 L249.3,115.8 L249.6,116.8 L250.0,117.8 L250.4,118.8 L250.7,119.8 L251.1,120.8 L251.4,121.8 L251.8,122.8 L252.2,123.8 L252.5,124.8 L252.9,125.8 L253.2,126.8 L253.6,127.8 L253.9,128.8 L254.3,129.8 L254.6,130.8 L255.0,131.8 L255.4,132.8 L255.7,133.8 L256.1,134.8 L256.4,135.8 L256.8,136.8 L257.2,137.8 L257.6,138.8 L257.9,139.8 L258.3,140.8 L258.7,141.8 L259.1,142.8 L259.4,143.8 L259.8,144.8 L260.2,145.8 L260.6,146.8 L261.0,147.8 L261.4,148.8 L261.8,149.8 L262.2,150.8 L262.6,151.8 L262.9,152.8 L263.4,153.8 L263.8,154.8 L264.2,155.8 L264.6,156.8 L265.0,157.8 L265.4,158.8 L265.8,159.8 L266.2,160.8 L266.7,161.8 L267.1,162.8 L267.5,163.8 L268.0,164.8 L268.4,165.8 L268.9,166.8 L269.3,167.8 L269.8,168.8 L270.2,169.8 L270.7,170.8 L271.2,171.8 L271.6,172.8 L272.1,173.8 L272.5,174.8 L273.0,175.8 L273.4,176.8 L273.9,177.8 L274.4,178.8 L274.8,179.8 L275.3,180.8 L275.7,181.8 L276.2,182.8 L276.6,183.8 L277.0,184.8 L277.5,185.8 L277.9,186.8 L278.4,187.8 L278.8,188.8 L279.2,189.8 L279.7,190.8 L280.1,191.8 L280.6,192.8 L281.0,193.8 L281.5,194.8 L281.9,195.8 L282.4,196.8 L282.9,197.8 L283.3,198.8 L283.8,199.8 L284.3,200.8 L284.8,201.8 L285.2,202.8 L285.7,203.8 L286.2,204.8 L286.7,205.8 L287.2,206.8 L287.7,207.8 L288.2,208.8 L288.7,209.8 L289.2,210.8 L289.7,211.8 L290.3,212.8 L290.8,213.8 L291.3,214.8 L291.8,215.8 L292.4,216.8 L292.9,217.8 L293.4,218.8 L294.0,219.8 L294.5,220.8 L295.1,221.8 L295.6,222.8 L296.2,223.8 L296.8,224.8 L297.3,225.8 L297.9,226.8 L298.5,227.8 L299.0,228.8 L299.6,229.8 L300.2,230.8 L300.8,231.8 L301.4,232.8 L302.0,233.8 L302.7,234.8 L303.3,235.8 L303.9,236.8 L304.6,237.8 L305.3,238.8 L306.0,239.8 L306.6,240.8 L307.3,241.8 L307.9,242.8 L308.6,243.8 L309.3,244.8 L310.1,245.8 L310.8,246.8 L311.5,247.8 L312.3,248.8 L313.1,249.8 L313.8,250.8 L314.6,251.8 L315.4,252.8 L316.2,253.8 L317.0,254.8 L317.8,255.8 L318.7,256.8 L319.5,257.8 L320.3,258.8 L321.1,259.8 L322.0,260.8 L322.8,261.8 L323.7,262.8 L324.5,263.8 L325.3,264.8 L326.1,265.8 L327.0,266.8 L327.8,267.8 L328.7,268.8 L329.7,269.8 L330.8,270.8 L331.9,271.8 L333.2,272.8 L334.5,273.8 L336.0,274.8 L337.8,275.8 L339.5,276.6" stroke="#007f00"/>
<path d="M102.8,284.5 L103.6,283.8 L104.7,282.8 L105.8,281.8 L106.9,280.8 L108.0,279.8 L109.1,278.8 L110.2,277.8 L111.2,276.8 L112.2,275.8 L113.2,274.8 L114.1,273.8 L115.0,272.8 L115.8,271.8 L116.7,270.8 L117.5,269.8 L118.3,268.8 L119.1,267.8 L119.9,266.8 L120.7,265.8 L121.4,264.8 L122.2,263.8 L122.9,262.8 L123.7,261.8 L124.4,260.8 L125.1,259.8 L125.9,258.8 L126.6,257.8 L127.4,256.8 L128.1,255.8 L128.8,254.8 L129.6,253.8 L130.3,252.8 L131.0,251.8 L131.7,250.8 L132.4,249.8 L133.1,248.8 L133.8,247.8 L134.5,246.8 L135.1,245.8 L135.8,244.8 L136.5,243.8 L137.1,242.8 L137.8,241.8 L138.4,240.8 L139.0,239.8 L139.6,238.8 L140.3,237.8 L140.9,236.8 L141.5,235.8 L142.1,234.8 L142.7,233.8 L143.2,232.8 L143.8,231.8 L144.4,230.8 L145.0,229.8 L145.5,228.8 L146.1,227.8 L146.6,226.8 L147.2,225.8 L147.7,224.8 L148.3,223.8 L148.8,222.8 L149.4,221.8 L149.9,220.8 L150.4,219.8 L150.9,218.8 L151.4,217.8 L152.0,216.8 L152.5,215.8 L153.0,214.8 L153.5,213.8 L154.0,212.8 L154.5,211.8 L155.0,210.8 L155.5,209.8 L156.0,208.8 L156.5,207.8 L156.9,206.8 L157.4,205.8 L157.9,204.8 L158.3,203.8 L158.8,202.8 L159.2,201.8 L159.7,200.8 L160.1,199.8 L160.5,198.8 L160.9,197.8 L161.3,196.8 L161.7,195.8 L162.1,194.8 L162.4,193.8 L162.8,192.8 L163.2,191.8 L163.5,190.8 L163.9,189.8 L164.2,188.8 L164.6,187.8 L165.0,186.8 L165.3,185.8 L165.7,184.8 L166.0,183.8 L166.4,182.8 L166.8,181.8 L167.2,180.8 L167.6,179.8 L168.0,178.8 L168.4,177.8 L168.8,176.8 L169.2,175.8 L169.7,174.8 L170.1,173.8 L170.5,172.8 L171.0,171.8 L171.4,170.8 L171.9,169.8 L172.3,168.8 L172.7,167.8 L173.2,166.8 L173.6,165.8 L174.0,164.8 L174.5,163.8 L174.9,162.8 L175.3,161.8 L175.7,160.8 L176.1,159.8 L176.5,158.8 L176.8,157.8 L177.2,156.8 L177.6,155.8 L178.0,154.8 L178.3,153.8 L178.7,152.8 L179.1,151.8 L179.4,150.8 L179.8,149.8 L180.1,148.8 L180.5,147.8 L180.8,146.8 L181.2,145.8 L181.5,144.8 L181.9,143.8 L182.2,142.8 L182.6,141.8 L182.9,140.8 L183.3,139.8 L183.6,138.8 L184.0,137.8 L184.3,136.8 L184.7,135.8 L185.0,134.8 L185.3,133.8 L185.7,132.8 L186.0,131.8 L186.3,130.8 L186.7,129.8 L187.0,128.8 L187.4,127.8 L187.7,126.8 L188.0,125.8 L188.4,124.8 L188.7,123.8 L189.0,122.8 L189.4,121.8 L189.7,120.8 L190.1,119.8 L190.4,118.8 L190.8,117.8 L191.1,116.8 L191.4,115.8 L191.8,114.8 L192.1,113.8 L192.5,112.8 L192.8,111.8 L193.2,110.8 L193.5,109.8 L193.9,108.8 L194.2,107.8 L194.6,106.8 L194.9,105.8 L195.3,104.8 L195.6,103.8 L196.0,102.8 L196.4,101.8 L196.7,100.8 L197.1,99.8 L197.4,98.8 L197.8,97.8 L198.2,96.8 L198.5,95.8 L198.9,94.8 L199.3,93.8 L199.7,92.8 L200.0,91.8 L200.4,90.8 L200.8,89.8 L201.2,88.8 L201.6,87.8 L201.9,86.8 L202.3,85.8 L202.7,84.8 L203.1,83.8 L203.4,82.8 L203.8,81.8 L204.2,80.8 L204.6,79.8 L204.9,78.8 L205.3,77.8 L205.7,76.8 L206.1,75.8 L206.4,74.8 L206.8,73.8 L207.2,72.8 L207.6,71.8 L207.9,70.8 L208.3,69.8 L208.7,68.8 L209.1,67.8 L209.4,66.8 L209.8,65.8 L210.2,64.8 L210.6,63.8 L210.9,62.8 L211.3,61.8 L211.7,60.8 L212.1,59.8 L212.5,58.8 L212.8,57.8 L213.2,56.8 L213.6,55.8 L214.0,54.8 L214.4,53.8 L214.7,52.8 L215.1,51.8 L215.5,50.8 L215.9,49.8 L216.3,48.8 L216.7,47.8 L217.0,46.8 L217.4,45.8 L217.8,44.8 L218.2,43.8 L218.6,42.8 L219.0,41.8 L219.3,40.8 L219.7,39.8 L220.1,38.8 L220.5,37.8 L220.9,36.8 L221.2,35.8 L221.6,36.8 L222.0,37.8 L222.4,38.8 L222.8,39.8 L223.2,40.8 L223.5,41.8 L223.9,42.8 L224.3,43.8 L224.7,44.8 L225.1,45.8 L225.5,46.8 L225.8,47.8 L226.2,48.8 L226.6,49.8 L227.0,50.8 L227.4,51.8 L227.8,52.8 L228.1,53.8 L228.5,54.8 L228.9,55.8 L229.3,56.8 L229.7,57.8 L230.0,58.8 L230.4,59.8 L230.8,60.8 L231.2,61.8 L231.6,62.8 L231.9,63.8 L232.3,64.8 L232.7,65.8 L233.1,66.8 L233.4,67.8 L233.8,68.8 L234.2,69.8 L234.6,70.8 L234.9,71.8 L235.3,72.8 L235.7,73.8 L236.1,74.8 L236.4,75.8 L236.8,76.8 L237.2,77.8 L237.6,78.8 L237.9,79.8 L238.3,80.8 L238.7,81.8 L239.1,82.8 L239.4,83.8 L239.8,84.8 L240.2,85.8 L240.6,86.8 L240.9,87.8 L241.3,88.8 L241.7,89.8 L242.1,90.8 L242.5,91.8 L242.8,92.8 L243.2,93.8 L243.6,94.8 L244.0,95.8 L244.3,96.8 L244.7,97.8 L245.1,98.8 L245.4,99.8 L245.8,100.8 L246.1,101.8 L246.5,102.8 L246.9,103.8 L247.2,104.8 L247.6,105.8 L247.9,106.8 L248.3,107.8 L248.6,108.8 L249.0,109.8 L249.3,110.8 L249.7,111.8 L250.0,112.8 L250.4,113.8 L250.7,114.8 L251.1,115.8 L251.4,116.8 L251.7,117.8 L252.1,118.8 L252.4,119.8 L252.8,120.8 L253.1,121.8 L253.5,122.8 L253.8,123.8 L254.1,124.8 L254.5,125.8 L254.8,126.8 L255.1,127.8 L255.5,128.8 L255.8,129.8 L256.2,130.8 L256.5,131.8 L256.8,132.8 L257.2,133.8 L257.5,134.8 L257.8,135.8 L258.2,136.8 L258.5,137.8 L258.9,138.8 L259.2,139.8 L259.6,140.8 L259.9,141.8 L260.3,142.8 L260.6,143.8 L261.0,144.8 L261.3,145.8 L261.7,146.8 L262.0,147.8 L262.4,148.8 L262.7,149.8 L263.1,150.8 L263.4,151.8 L263.8,152.8 L264.2,153.8 L264.5,154.8 L264.9,155.8 L265.3,156.8 L265.7,157.8 L266.0,158.8 L266.4,159.8 L266.8,160.8 L267.2,161.8 L267.6,162.8 L268.0,163.8 L268.5,164.8 L268.9,165.8 L269.3,166.8 L269.8,167.8 L270.2,168.8 L270.6,169.8 L271.0,170.8 L271.4,171.8 L271.7,172.8 L272.1,173.8 L272.4,174.8 L272.8,175.8 L273.1,176.8 L273.5,177.8 L273.8,178.8 L274.1,179.8 L274.5,180.8 L275.0,181.8 L275.4,182.8 L275.8,183.8 L276.2,184.8 L276.6,185.8 L277.0,186.8 L277.4,187.8 L277.8,188.8 L278.2,189.8 L278.6,190.8 L279.0,191.8 L279.4,192.8 L279.8,193.8 L280.2,194.8 L280.6,195.8 L281.1,196.8 L281.5,197.8 L282.0,198.8 L282.4,199.8 L282.8,200.8 L283.3,201.8 L283.7,202.8 L284.2,203.8 L284.6,204.8 L285.1,205.8 L285.6,206.8 L286.0,207.8 L286.5,208.8 L287.0,209.8 L287.5,210.8 L288.0,211.8 L288.5,212.8 L289.0,213.8 L289.5,214.8 L290.0,215.8 L290.5,216.8 L291.1,217.8 L291.6,218.8 L292.1,219.8 L292.6,220.8 L293.1,221.8 L293.6,222.8 L294.1,223.8 L294.6,224.8 L295.1,225.8 L295.6,226.8 L296.1,227.8 L296.6,228.8 L297.1,229.8 L297.6,230.8 L298.1,231.8 L298.7,232.8 L299.2,233.8 L299.7,234.8 L300.3,235.8 L300.8,236.8 L301.4,237.8 L301.9,238.8 L302.5,239.8 L303.1,240.8 L303.7,241.8 L304.3,242.8 L304.9,243.8 L305.6,244.8 L306.2,245.8 L306.8,246.8 L307.5,247.8 L308.2,248.8 L308.8,249.8 L309.5,250.8 L310.2,251.8 L310.8,252.8 L311.5,253.8 L312.2,254.8 L312.9,255.8 L313.6,256.8 L314.3,257.8 L315.0,258.8 L315.8,259.8 L316.5,260.8 L317.2,261.8 L317.9,262.8 L318.6,263.8 L319.4,264.8 L320.1,265.8 L320.8,266.8 L321.6,267.8 L322.4,268.8 L323.1,269.8 L323.9,270.8 L324.7,271.8 L325.6,272.8 L326.4,273.8 L327.3,274.8 L328.4,275.8 L329.5,276.8 L330.7,277.8 L331.9,278.8 L333.2,279.8 L334.4,280.8 L335.7,281.8 L337.0,282.8 L338.3,283.8 L339.2,284.5" stroke="#00008a"/>
<path d="M104.4,284.5 L105.2,283.8 L106.3,282.8 L107.4,281.8 L108.5,280.8 L109.6,279.8 L110.7,278.8 L111.8,277.8 L112.8,276.8 L113.8,275.8 L114.8,274.8 L115.7,273.8 L116.6,272.8 L117.4,271.8 L118.3,270.8 L119.1,269.8 L119.9,268.8 L120.7,267.8 L121.5,266.8 L122.3,265.8 L123.0,264.8 L123.8,263.8 L124.5,262.8 L125.3,261.8 L126.0,260.8 L126.7,259.8 L127.5,258.8 L128.2,257.8 L129.0,256.8 L129.7,255.8 L130.4,254.8 L131.2,253.8 L131.9,252.8 L132.6,251.8 L133.3,250.8 L134.0,249.8 L134.7,248.8 L135.4,247.8 L136.1,246.8 L136.7,245.8 L137.4,244.8 L138.1,243.8 L138.7,242.8 L139.4,241.8 L140.0,240.8 L140.6,239.8 L141.2,238.8 L141.9,237.8 L142.5,236.8 L143.1,235.8 L143.7,234.8 L144.3,233.8 L144.8,232.8 L145.4,231.8 L146.0,230.8 L146.6,229.8 L147.1,228.8 L147.7,227.8 L148.2,226.8 L148.8,225.8 L149.3,224.8 L149.9,223.8 L150.4,222.8 L151.0,221.8 L151.5,220.8 L152.0,219.8 L152.5,218.8 L153.0,217.8 L153.6,216.8 L154.1,215.8 L154.6,214.8 L155.1,213.8 L155.6,212.8 L156.1,211.8 L156.6,210.8 L157.1,209.8 L157.6,208.8 L158.1,207.8 L158.5,206.8 L159.0,205.8 L159.5,204.8 L159.9,203.8 L160.4,202.8 L160.8,201.8 L161.3,200.8 L161.7,199.8 L162.0,198.8 L162.4,197.8 L162.7,196.8 L163.0,195.8 L163.3,194.8 L163.6,193.8 L163.9,192.8 L164.2,191.8 L164.5,190.8 L164.8,189.8 L165.1,188.8 L165.4,187.8 L165.7,186.8 L166.0,185.8 L166.3,184.8 L166.6,183.8 L166.9,182.8 L167.2,181.8 L167.6,180.8 L167.9,179.8 L168.2,178.8 L168.6,177.8 L168.9,176.8 L169.3,175.8" stroke="#00008a"/>
</g>
<line x1="286.4" y1="39.9" x2="319.8" y2="39.9" stroke="#000000" stroke-width="7.8" stroke-linecap="round"/>
<text x="327.8" y="45.7" font-family='"Liberation Serif", serif' font-weight="bold" font-size="15.6">90<tspan font-size="9" dy="-7.8">o</tspan></text>
<line x1="286.4" y1="61.6" x2="319.8" y2="61.6" stroke="#ff0000" stroke-width="7.8" stroke-linecap="round"/>
<text x="327.8" y="67.4" font-family='"Liberation Serif", serif' font-weight="bold" font-size="15.6">70<tspan font-size="9" dy="-7.8">o</tspan></text>
<line x1="286.4" y1="83.4" x2="319.8" y2="83.4" stroke="#0000ff" stroke-width="7.8" stroke-linecap="round"/>
<text x="327.8" y="89.2" font-family='"Liberation Serif", serif' font-weight="bold" font-size="15.6">50<tspan font-size="9" dy="-7.8">o</tspan></text>
<line x1="286.4" y1="105.1" x2="319.8" y2="105.1" stroke="#ff00ff" stroke-width="7.8" stroke-linecap="round"/>
<text x="327.8" y="110.9" font-family='"Liberation Serif", serif' font-weight="bold" font-size="15.6">30<tspan font-size="9" dy="-7.8">o</tspan></text>
<line x1="286.4" y1="126.9" x2="319.8" y2="126.9" stroke="#007f00" stroke-width="7.8" stroke-linecap="round"/>
<text x="327.8" y="132.7" font-family='"Liberation Serif", serif' font-weight="bold" font-size="15.6">10<tspan font-size="9" dy="-7.8">o</tspan></text>
<line x1="286.4" y1="148.6" x2="319.8" y2="148.6" stroke="#00008a" stroke-width="7.8" stroke-linecap="round"/>
<text x="327.8" y="154.4" font-family='"Liberation Serif", serif' font-weight="bold" font-size="15.6">0<tspan font-size="9" dy="-7.8">o</tspan></text>
<rect x="88.0" y="22.7" width="266.10" height="273.35" fill="none" stroke="#000" stroke-width="1.8"/>
<path d="M88.0,36.30h5 M88.0,104.75h5 M88.0,173.20h5 M88.0,241.65h5 M88.0,70.53h2.8 M88.0,138.97h2.8 M88.0,207.43h2.8 M88.0,275.88h2.8 M111.40,296.05v-5 M166.35,296.05v-5 M221.30,296.05v-5 M276.25,296.05v-5 M331.20,296.05v-5 M138.88,296.05v-2.8 M193.83,296.05v-2.8 M248.78,296.05v-2.8 M303.73,296.05v-2.8" stroke="#000" stroke-width="1.3" fill="none"/>
<text x="82.6" y="41.1" text-anchor="end" font-family='"Liberation Sans", sans-serif' font-size="17">0</text>
<text x="82.6" y="109.5" text-anchor="end" font-family='"Liberation Sans", sans-serif' font-size="17">-0.05</text>
<text x="82.6" y="178.0" text-anchor="end" font-family='"Liberation Sans", sans-serif' font-size="17">-0.1</text>
<text x="82.6" y="246.4" text-anchor="end" font-family='"Liberation Sans", sans-serif' font-size="17">-0.15</text>
<text x="111.70" y="314.9" text-anchor="middle" font-family='"Liberation Sans", sans-serif' font-size="17">-0.14</text>
<text x="166.65" y="314.9" text-anchor="middle" font-family='"Liberation Sans", sans-serif' font-size="17">-0.07</text>
<text x="221.60" y="314.9" text-anchor="middle" font-family='"Liberation Sans", sans-serif' font-size="17">0</text>
<text x="276.55" y="314.9" text-anchor="middle" font-family='"Liberation Sans", sans-serif' font-size="17">0.07</text>
<text x="331.50" y="314.9" text-anchor="middle" font-family='"Liberation Sans", sans-serif' font-size="17">0.14</text>
<text x="252.0" y="339.8" font-family='"Liberation Serif", serif' font-size="20.6">B(T)</text>
<text transform="translate(41.0,19.0) scale(1.05,1.0)" font-family='"Liberation Serif", serif' font-size="21.6">(a)</text>
<text transform="translate(27.00,194.81) rotate(-90) scale(1,1)" font-family='"Liberation Serif", serif' font-size="24">Δ</text>
<text transform="translate(27.00,179.44) rotate(-90) scale(1.1,1)" font-family='"Liberation Serif", serif' font-size="25">σ</text>
<text transform="translate(27.00,164.70) rotate(-90) scale(1,1)" font-family='"Liberation Serif", serif' font-size="25">(</text>
<text transform="translate(27.00,155.97) rotate(-90) scale(1,1)" font-family='"Liberation Serif", serif' font-size="25">e</text>
<text transform="translate(15.20,146.39) rotate(-90) scale(1,1)" font-family='"Liberation Serif", serif' font-size="18">2</text>
<text transform="translate(24.50,135.60) rotate(-90) scale(1.4,1)" font-family='"Liberation Serif", serif' font-size="23">/</text>
<text transform="translate(27.00,125.45) rotate(-90) scale(1,1)" font-family='"Liberation Serif", serif' font-size="25">h</text>
<text transform="translate(27.00,114.40) rotate(-90) scale(1,1)" font-family='"Liberation Serif", serif' font-size="25">)</text>
<text transform="translate(432.30,218.14) rotate(-90) scale(1,1)" font-family='"Liberation Serif", serif' font-size="22">Δ</text>
<text transform="translate(432.30,203.08) rotate(-90) scale(1.05,1)" font-family='"Liberation Serif", serif' font-size="22">σ</text>
<text transform="translate(432.30,190.39) rotate(-90) scale(1,1)" font-family='"Liberation Serif", serif' font-size="22.5">(</text>
<text transform="translate(432.30,183.42) rotate(-90) scale(1,1)" font-family='"Liberation Serif", serif' font-size="23">1</text>
<text transform="translate(432.30,171.67) rotate(-90) scale(1,1)" font-family='"Liberation Serif", serif' font-size="23">0</text>
<text transform="translate(419.90,158.54) rotate(-90) scale(1,1)" font-family='"Liberation Serif", serif' font-size="14.7">-</text>
<text transform="translate(419.90,154.21) rotate(-90) scale(1,1)" font-family='"Liberation Serif", serif' font-size="14.7">3</text>
<text transform="translate(432.30,143.10) rotate(-90) scale(1,1)" font-family='"Liberation Serif", serif' font-size="23">e</text>
<text transform="translate(421.10,133.18) rotate(-90) scale(1,1)" font-family='"Liberation Serif", serif' font-size="15.5">2</text>
<text transform="translate(432.30,125.20) rotate(-90) scale(1.15,1)" font-family='"Liberation Serif", serif' font-size="23">/</text>
<text transform="translate(432.30,116.53) rotate(-90) scale(1,1)" font-family='"Liberation Serif", serif' font-size="23">h</text>
<text transform="translate(432.30,106.52) rotate(-90) scale(1,1)" font-family='"Liberation Serif", serif' font-size="22.5">)</text>
<g clip-path="url(#cpb)">
<path d="M490.72,234.13L495.38,246.37M500.63,256.40L504.07,261.40M510.73,270.65L514.87,276.15M550.95,269.95L556.15,260.05M560.54,249.57L567.46,228.03M570.96,217.18L578.74,193.22M581.92,182.28L588.28,157.52M591.12,146.48L598.58,117.52M601.50,106.50L608.60,80.50M611.56,69.49L618.84,42.11M621.75,42.11L628.95,69.49M631.90,80.50L639.00,106.50M641.92,117.52L649.38,146.48M652.22,157.52L658.58,182.28M661.76,193.22L669.54,217.18M673.04,228.03L679.96,249.57M684.35,260.05L689.55,269.95M725.63,276.15L729.77,270.65M736.43,261.40L739.87,256.40M745.12,246.37L749.78,234.13" fill="none" stroke="#2a2a2a" stroke-width="1.05" stroke-dasharray="3,1"/>
<circle cx="488.7" cy="228.8" r="5.1" fill="url(#gk)"/>
<circle cx="497.4" cy="251.7" r="5.1" fill="url(#gk)"/>
<circle cx="507.3" cy="266.1" r="5.1" fill="url(#gk)"/>
<circle cx="518.3" cy="280.7" r="5.1" fill="url(#gk)"/>
<circle cx="528.0" cy="283.7" r="5.1" fill="url(#gk)"/>
<circle cx="538.3" cy="279.2" r="5.1" fill="url(#gk)"/>
<circle cx="548.3" cy="275.0" r="5.1" fill="url(#gk)"/>
<circle cx="558.8" cy="255.0" r="5.1" fill="url(#gk)"/>
<circle cx="569.2" cy="222.6" r="5.1" fill="url(#gk)"/>
<circle cx="580.5" cy="187.8" r="5.1" fill="url(#gk)"/>
<circle cx="589.7" cy="152.0" r="5.1" fill="url(#gk)"/>
<circle cx="600.0" cy="112.0" r="5.1" fill="url(#gk)"/>
<circle cx="610.1" cy="75.0" r="5.1" fill="url(#gk)"/>
<circle cx="630.4" cy="75.0" r="5.1" fill="url(#gk)"/>
<circle cx="640.5" cy="112.0" r="5.1" fill="url(#gk)"/>
<circle cx="650.8" cy="152.0" r="5.1" fill="url(#gk)"/>
<circle cx="660.0" cy="187.8" r="5.1" fill="url(#gk)"/>
<circle cx="671.3" cy="222.6" r="5.1" fill="url(#gk)"/>
<circle cx="681.7" cy="255.0" r="5.1" fill="url(#gk)"/>
<circle cx="692.2" cy="275.0" r="5.1" fill="url(#gk)"/>
<circle cx="702.2" cy="279.2" r="5.1" fill="url(#gk)"/>
<circle cx="712.5" cy="283.7" r="5.1" fill="url(#gk)"/>
<circle cx="722.2" cy="280.7" r="5.1" fill="url(#gk)"/>
<circle cx="733.2" cy="266.1" r="5.1" fill="url(#gk)"/>
<circle cx="743.1" cy="251.7" r="5.1" fill="url(#gk)"/>
<circle cx="751.8" cy="228.8" r="5.1" fill="url(#gk)"/>
<path d="M508.65,192.56L513.35,205.44M518.41,215.58L521.69,220.62M527.55,230.39L530.15,235.11M561.61,229.84L564.49,224.76M568.94,214.34L574.16,197.06M577.69,186.22L583.81,168.78M587.14,157.89L592.16,138.71M595.12,127.71L601.28,105.49M604.30,94.50L610.00,73.50M613.04,62.51L618.76,42.09M621.82,42.09L627.48,62.51M630.50,73.50L636.20,94.50M639.22,105.49L645.38,127.71M648.34,138.71L653.36,157.89M656.69,168.78L662.81,186.22M666.34,197.06L671.56,214.34M676.01,224.76L678.89,229.84M710.35,235.11L712.95,230.39M718.81,220.62L722.09,215.58M727.15,205.44L731.85,192.56" fill="none" stroke="#2a2a2a" stroke-width="1.05" stroke-dasharray="3,1"/>
<circle cx="506.7" cy="187.2" r="5.1" fill="url(#gr)"/>
<circle cx="515.3" cy="210.8" r="5.1" fill="url(#gr)"/>
<circle cx="524.8" cy="225.4" r="5.1" fill="url(#gr)"/>
<circle cx="532.9" cy="240.1" r="5.1" fill="url(#gr)"/>
<circle cx="541.5" cy="242.9" r="5.1" fill="url(#gr)"/>
<circle cx="550.4" cy="238.9" r="5.1" fill="url(#gr)"/>
<circle cx="558.8" cy="234.8" r="5.1" fill="url(#gr)"/>
<circle cx="567.3" cy="219.8" r="5.1" fill="url(#gr)"/>
<circle cx="575.8" cy="191.6" r="5.1" fill="url(#gr)"/>
<circle cx="585.7" cy="163.4" r="5.1" fill="url(#gr)"/>
<circle cx="593.6" cy="133.2" r="5.1" fill="url(#gr)"/>
<circle cx="602.8" cy="100.0" r="5.1" fill="url(#gr)"/>
<circle cx="611.5" cy="68.0" r="5.1" fill="url(#gr)"/>
<circle cx="629.0" cy="68.0" r="5.1" fill="url(#gr)"/>
<circle cx="637.7" cy="100.0" r="5.1" fill="url(#gr)"/>
<circle cx="646.9" cy="133.2" r="5.1" fill="url(#gr)"/>
<circle cx="654.8" cy="163.4" r="5.1" fill="url(#gr)"/>
<circle cx="664.7" cy="191.6" r="5.1" fill="url(#gr)"/>
<circle cx="673.2" cy="219.8" r="5.1" fill="url(#gr)"/>
<circle cx="681.7" cy="234.8" r="5.1" fill="url(#gr)"/>
<circle cx="690.1" cy="238.9" r="5.1" fill="url(#gr)"/>
<circle cx="699.0" cy="242.9" r="5.1" fill="url(#gr)"/>
<circle cx="707.6" cy="240.1" r="5.1" fill="url(#gr)"/>
<circle cx="715.7" cy="225.4" r="5.1" fill="url(#gr)"/>
<circle cx="725.2" cy="210.8" r="5.1" fill="url(#gr)"/>
<circle cx="733.8" cy="187.2" r="5.1" fill="url(#gr)"/>
<path d="M530.05,193.64L532.15,198.56M536.96,208.89L538.94,212.81M558.80,217.89L559.40,217.01M565.85,207.62L566.85,206.18M572.70,196.43L575.00,191.97M579.22,181.44L583.08,168.46M586.28,157.52L589.82,145.18M593.06,134.25L597.24,120.45M600.46,109.52L604.44,95.48M607.45,84.49L611.65,68.51M614.60,57.50L618.80,42.10M621.78,42.10L625.92,57.50M628.85,68.51L633.05,84.49M636.06,95.48L640.04,109.52M643.26,120.45L647.44,134.25M650.68,145.18L654.22,157.52M657.42,168.46L661.28,181.44M665.50,191.97L667.80,196.43M673.65,206.18L674.65,207.62M681.10,217.01L681.70,217.89M701.56,212.81L703.54,208.89M708.35,198.56L710.45,193.64" fill="none" stroke="#2a2a2a" stroke-width="1.05" stroke-dasharray="3,1"/>
<circle cx="527.8" cy="188.4" r="5.1" fill="url(#gb)"/>
<circle cx="534.4" cy="203.8" r="5.1" fill="url(#gb)"/>
<circle cx="541.5" cy="217.9" r="5.1" fill="url(#gb)"/>
<circle cx="549.1" cy="226.7" r="5.1" fill="url(#gb)"/>
<circle cx="555.6" cy="222.6" r="5.1" fill="url(#gb)"/>
<circle cx="562.6" cy="212.3" r="5.1" fill="url(#gb)"/>
<circle cx="570.1" cy="201.5" r="5.1" fill="url(#gb)"/>
<circle cx="577.6" cy="186.9" r="5.1" fill="url(#gb)"/>
<circle cx="584.7" cy="163.0" r="5.1" fill="url(#gb)"/>
<circle cx="591.4" cy="139.7" r="5.1" fill="url(#gb)"/>
<circle cx="598.9" cy="115.0" r="5.1" fill="url(#gb)"/>
<circle cx="606.0" cy="90.0" r="5.1" fill="url(#gb)"/>
<circle cx="613.1" cy="63.0" r="5.1" fill="url(#gb)"/>
<circle cx="627.4" cy="63.0" r="5.1" fill="url(#gb)"/>
<circle cx="634.5" cy="90.0" r="5.1" fill="url(#gb)"/>
<circle cx="641.6" cy="115.0" r="5.1" fill="url(#gb)"/>
<circle cx="649.1" cy="139.7" r="5.1" fill="url(#gb)"/>
<circle cx="655.8" cy="163.0" r="5.1" fill="url(#gb)"/>
<circle cx="662.9" cy="186.9" r="5.1" fill="url(#gb)"/>
<circle cx="670.4" cy="201.5" r="5.1" fill="url(#gb)"/>
<circle cx="677.9" cy="212.3" r="5.1" fill="url(#gb)"/>
<circle cx="684.9" cy="222.6" r="5.1" fill="url(#gb)"/>
<circle cx="691.4" cy="226.7" r="5.1" fill="url(#gb)"/>
<circle cx="699.0" cy="217.9" r="5.1" fill="url(#gb)"/>
<circle cx="706.1" cy="203.8" r="5.1" fill="url(#gb)"/>
<circle cx="712.7" cy="188.4" r="5.1" fill="url(#gb)"/>
<path d="M541.62,179.66L544.38,188.94M547.63,199.86L550.67,210.04M554.34,220.82L555.86,224.78M566.36,227.51L568.64,220.89M572.20,210.06L575.00,201.14M578.47,190.28L581.53,180.92M584.89,170.03L587.61,160.67M590.66,149.69L593.74,138.11M596.92,127.16L599.98,117.44M603.07,106.47L606.53,92.53M609.27,81.47L612.73,67.53M615.45,56.46L618.95,42.14M621.63,42.14L625.07,56.46M627.77,67.53L631.23,81.47M633.97,92.53L637.43,106.47M640.52,117.44L643.58,127.16M646.76,138.11L649.84,149.69M652.89,160.67L655.61,170.03M658.97,180.92L662.03,190.28M665.50,201.14L668.30,210.06M671.86,220.89L674.14,227.51M684.64,224.78L686.16,220.82M689.83,210.04L692.87,199.86M696.12,188.94L698.88,179.66" fill="none" stroke="#2a2a2a" stroke-width="1.05" stroke-dasharray="3,1"/>
<circle cx="540.0" cy="174.2" r="5.1" fill="url(#gm)"/>
<circle cx="546.0" cy="194.4" r="5.1" fill="url(#gm)"/>
<circle cx="552.3" cy="215.5" r="5.1" fill="url(#gm)"/>
<circle cx="557.9" cy="230.1" r="5.1" fill="url(#gm)"/>
<circle cx="564.5" cy="232.9" r="5.1" fill="url(#gm)"/>
<circle cx="570.5" cy="215.5" r="5.1" fill="url(#gm)"/>
<circle cx="576.7" cy="195.7" r="5.1" fill="url(#gm)"/>
<circle cx="583.3" cy="175.5" r="5.1" fill="url(#gm)"/>
<circle cx="589.2" cy="155.2" r="5.1" fill="url(#gm)"/>
<circle cx="595.2" cy="132.6" r="5.1" fill="url(#gm)"/>
<circle cx="601.7" cy="112.0" r="5.1" fill="url(#gm)"/>
<circle cx="607.9" cy="87.0" r="5.1" fill="url(#gm)"/>
<circle cx="614.1" cy="62.0" r="5.1" fill="url(#gm)"/>
<circle cx="626.4" cy="62.0" r="5.1" fill="url(#gm)"/>
<circle cx="632.6" cy="87.0" r="5.1" fill="url(#gm)"/>
<circle cx="638.8" cy="112.0" r="5.1" fill="url(#gm)"/>
<circle cx="645.3" cy="132.6" r="5.1" fill="url(#gm)"/>
<circle cx="651.3" cy="155.2" r="5.1" fill="url(#gm)"/>
<circle cx="657.2" cy="175.5" r="5.1" fill="url(#gm)"/>
<circle cx="663.8" cy="195.7" r="5.1" fill="url(#gm)"/>
<circle cx="670.0" cy="215.5" r="5.1" fill="url(#gm)"/>
<circle cx="676.0" cy="232.9" r="5.1" fill="url(#gm)"/>
<circle cx="682.6" cy="230.1" r="5.1" fill="url(#gm)"/>
<circle cx="688.2" cy="215.5" r="5.1" fill="url(#gm)"/>
<circle cx="694.5" cy="194.4" r="5.1" fill="url(#gm)"/>
<circle cx="700.5" cy="174.2" r="5.1" fill="url(#gm)"/>
<circle cx="594.4" cy="101.5" r="5.1" fill="url(#gg)"/>
<circle cx="595.6" cy="107.9" r="5.1" fill="url(#gg)"/>
<circle cx="596.9" cy="114.6" r="5.1" fill="url(#gg)"/>
<circle cx="600.8" cy="121.7" r="5.1" fill="url(#gg)"/>
<circle cx="602.5" cy="115.4" r="5.1" fill="url(#gg)"/>
<circle cx="603.6" cy="103.8" r="5.1" fill="url(#gg)"/>
<circle cx="605.5" cy="95.8" r="5.1" fill="url(#gg)"/>
<circle cx="607.4" cy="87.7" r="5.1" fill="url(#gg)"/>
<circle cx="609.7" cy="79.6" r="5.1" fill="url(#gg)"/>
<circle cx="611.7" cy="71.2" r="5.1" fill="url(#gg)"/>
<circle cx="613.6" cy="63.3" r="5.1" fill="url(#gg)"/>
<circle cx="616.0" cy="55.2" r="5.1" fill="url(#gg)"/>
<circle cx="618.0" cy="45.7" r="5.1" fill="url(#gg)"/>
<circle cx="620.3" cy="36.4" r="5.1" fill="url(#gg)"/>
<circle cx="622.5" cy="45.7" r="5.1" fill="url(#gg)"/>
<circle cx="624.5" cy="55.2" r="5.1" fill="url(#gg)"/>
<circle cx="626.9" cy="63.3" r="5.1" fill="url(#gg)"/>
<circle cx="628.8" cy="71.2" r="5.1" fill="url(#gg)"/>
<circle cx="630.8" cy="79.6" r="5.1" fill="url(#gg)"/>
<circle cx="633.1" cy="87.7" r="5.1" fill="url(#gg)"/>
<circle cx="635.0" cy="95.8" r="5.1" fill="url(#gg)"/>
<circle cx="636.9" cy="103.8" r="5.1" fill="url(#gg)"/>
<circle cx="638.0" cy="115.4" r="5.1" fill="url(#gg)"/>
<circle cx="639.7" cy="121.7" r="5.1" fill="url(#gg)"/>
<circle cx="643.6" cy="114.6" r="5.1" fill="url(#gg)"/>
<circle cx="644.9" cy="107.9" r="5.1" fill="url(#gg)"/>
<circle cx="646.1" cy="101.5" r="5.1" fill="url(#gg)"/>
</g>
<path d="M674,43.9H686.5M699.1,43.9H712" stroke="#3a3a3a" stroke-width="1.2"/>
<circle cx="692.8" cy="43.9" r="5.1" fill="url(#gk)"/>
<text x="716.0" y="50.3" font-family='"Liberation Serif", serif' font-weight="bold" font-size="17">90<tspan font-size="10" dy="-8.8">o</tspan></text>
<path d="M674,68.0H686.5M699.1,68.0H712" stroke="#3a3a3a" stroke-width="1.2"/>
<circle cx="692.8" cy="68.0" r="5.1" fill="url(#gr)"/>
<text x="716.0" y="74.4" font-family='"Liberation Serif", serif' font-weight="bold" font-size="17">70<tspan font-size="10" dy="-8.8">o</tspan></text>
<path d="M674,92.3H686.5M699.1,92.3H712" stroke="#3a3a3a" stroke-width="1.2"/>
<circle cx="692.8" cy="92.3" r="5.1" fill="url(#gb)"/>
<text x="716.0" y="98.7" font-family='"Liberation Serif", serif' font-weight="bold" font-size="17">50<tspan font-size="10" dy="-8.8">o</tspan></text>
<path d="M674,116.05H686.5M699.1,116.05H712" stroke="#3a3a3a" stroke-width="1.2"/>
<circle cx="692.8" cy="116.05" r="5.1" fill="url(#gm)"/>
<text x="716.0" y="122.5" font-family='"Liberation Serif", serif' font-weight="bold" font-size="17">30<tspan font-size="10" dy="-8.8">o</tspan></text>
<path d="M674,140.1H686.5M699.1,140.1H712" stroke="#3a3a3a" stroke-width="1.2"/>
<circle cx="692.8" cy="140.1" r="5.1" fill="url(#gg)"/>
<text x="716.0" y="146.5" font-family='"Liberation Serif", serif' font-weight="bold" font-size="17">10<tspan font-size="10" dy="-8.8">o</tspan></text>
<rect x="487.25" y="22.85" width="266.35" height="273.10" fill="none" stroke="#000" stroke-width="1.8"/>
<path d="M487.25,36.90h8.2 M487.25,108.84h8.2 M487.25,180.77h8.2 M487.25,252.71h8.2 M487.25,72.87h4 M487.25,144.80h4 M487.25,216.74h4 M487.25,288.67h4 M502.10,295.95v-8 M561.25,295.95v-8 M620.40,295.95v-8 M679.55,295.95v-8 M738.70,295.95v-8 M531.67,295.95v-4 M590.82,295.95v-4 M649.98,295.95v-4 M709.12,295.95v-4" stroke="#000" stroke-width="1.5" fill="none"/>
<text x="478.6" y="42.5" text-anchor="end" font-family='"Liberation Sans", sans-serif' font-size="16.8">0</text>
<text x="478.6" y="114.4" text-anchor="end" font-family='"Liberation Sans", sans-serif' font-size="16.8">-5</text>
<text x="478.6" y="186.4" text-anchor="end" font-family='"Liberation Sans", sans-serif' font-size="16.8">-10</text>
<text x="478.6" y="258.3" text-anchor="end" font-family='"Liberation Sans", sans-serif' font-size="16.8">-15</text>
<text x="502.40" y="318.6" text-anchor="middle" font-family='"Liberation Sans", sans-serif' font-size="17">-0.04</text>
<text x="561.55" y="318.6" text-anchor="middle" font-family='"Liberation Sans", sans-serif' font-size="17">-0.02</text>
<text x="620.70" y="318.6" text-anchor="middle" font-family='"Liberation Sans", sans-serif' font-size="17">0</text>
<text x="679.85" y="318.6" text-anchor="middle" font-family='"Liberation Sans", sans-serif' font-size="17">0.02</text>
<text x="739.00" y="318.6" text-anchor="middle" font-family='"Liberation Sans", sans-serif' font-size="17">0.04</text>
<text x="603.0" y="338.5" font-family='"Liberation Serif", serif' font-size="19.6">Bsinθ</text>
<text transform="translate(427.5,21.5) scale(1,1.04)" font-family='"Liberation Serif", serif' font-size="22.4">(b)</text>
</svg>
</body></html>
